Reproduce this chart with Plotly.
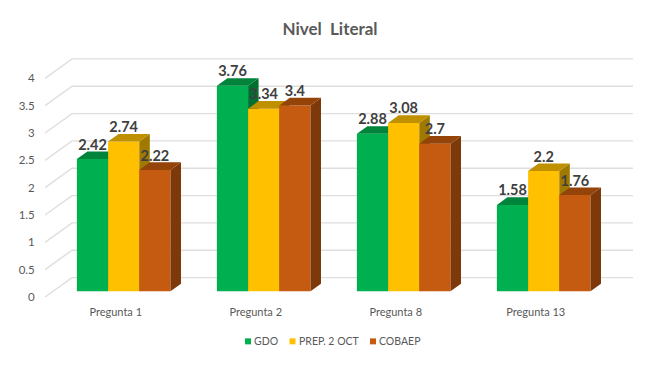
import plotly.graph_objects as go

categories = ["Pregunta 1", "Pregunta 2", "Pregunta 8", "Pregunta 13"]
gdo = [2.42, 3.76, 2.88, 1.58]
prep = [2.74, 3.34, 3.08, 2.2]
cobaep = [2.22, 3.4, 2.7, 1.76]
y_ticks = [0, 0.5, 1, 1.5, 2, 2.5, 3, 3.5, 4]
y_labels = ["0", "0.5", "1", "1.5", "2", "2.5", "3", "3.5", "4"]

series = [
    ("GDO", gdo, "#00B050", "#00843C", "#006F32"),
    ("PREP. 2 OCT", prep, "#FFC000", "#BF9000", "#A07900"),
    ("COBAEP", cobaep, "#C55A11", "#944309", "#7E390A"),
]
legend_swatch_px = [248, 292.5, 373]

W, H = 645, 369
L, R, T, B = 45, 0, 40, 72.3
PX_X, PX_Y = 140.0, 54.6
X_RANGE = [-0.505, -0.505 + (W - L - R) / PX_X]
Y_RANGE = [0, (H - T - B) / PX_Y]
DX, DY = 27 / PX_X, 19.4 / PX_Y      # full depth of the floor
FRONT, BACK = 0.296, 0.685           # bar depth as a share of the floor depth
BAR_W = 31.2 / PX_X
AXIS_END = 3.502
FONT = "Lato, Carlito, Calibri, sans-serif"

fig = go.Figure()

# back wall and left floor lines
for t in y_ticks:
    fig.add_trace(go.Scatter(
        x=[X_RANGE[0], X_RANGE[0] + DX, AXIS_END + DX],
        y=[t, t + DY, t + DY],
        mode="lines", line=dict(color="#DEDEDE", width=1.4),
        showlegend=False, hoverinfo="skip"))

for s, (name, vals, c_front, c_top, c_side) in enumerate(series):
    xa, ya = f"x{s + 2}", f"y{s + 2}"
    lefts = [i + FRONT * DX + (s - 1.5) * BAR_W for i in range(len(vals))]
    fig.add_trace(go.Bar(
        x=[l + BAR_W / 2 for l in lefts], y=vals,
        base=[FRONT * DY] * len(vals), width=BAR_W,
        marker=dict(color=c_front, line=dict(width=0)),
        name=name, xaxis=xa, yaxis=ya, showlegend=False))
    d_x, d_y = (BACK - FRONT) * DX, (BACK - FRONT) * DY
    b0 = FRONT * DY
    for l, v in zip(lefts, vals):
        r = l + BAR_W
        fig.add_trace(go.Scatter(
            x=[r, r + d_x, r + d_x, r, r], y=[b0, b0 + d_y, b0 + d_y + v, b0 + v, b0],
            fill="toself", fillcolor=c_side, mode="none",
            showlegend=False, hoverinfo="skip", xaxis=xa, yaxis=ya))
        fig.add_trace(go.Scatter(
            x=[l, r, r + d_x, l + d_x, l],
            y=[b0 + v, b0 + v, b0 + v + d_y, b0 + v + d_y, b0 + v],
            fill="toself", fillcolor=c_top, mode="none",
            showlegend=False, hoverinfo="skip", xaxis=xa, yaxis=ya))

# data labels, above every face
lx, ly, lt = [], [], []
for s, (name, vals, *_c) in enumerate(series):
    for i, v in enumerate(vals):
        lx.append(i + FRONT * DX + (s - 1) * BAR_W)
        ly.append(v + FRONT * DY + 13 / PX_Y)
        lt.append(f"{v:g}")
fig.add_trace(go.Scatter(
    x=lx, y=ly, text=lt, mode="text", textposition="middle center",
    textfont=dict(family=FONT, size=14.5, color="#404040", weight="bold"),
    showlegend=False, hoverinfo="skip", xaxis="x5", yaxis="y5", cliponaxis=False))

hidden_x = dict(range=X_RANGE, visible=False, overlaying="x")
hidden_y = dict(range=Y_RANGE, visible=False, overlaying="y")

# legend: small square swatches close to their text
shapes, annotations = [], []
for px, (name, _v, color, _t, _s) in zip(legend_swatch_px, series):
    shapes.append(dict(type="rect", xref="paper", yref="paper", layer="above",
                       x0=(px - 3 - L) / (W - L - R), x1=(px + 3 - L) / (W - L - R),
                       y0=(H - B - 344) / (H - T - B), y1=(H - B - 338) / (H - T - B),
                       fillcolor=color, line=dict(width=0)))
    annotations.append(dict(text=name, xref="paper", yref="paper", showarrow=False,
                            x=(px + 6 - L) / (W - L - R), xanchor="left",
                            y=(H - B - 341) / (H - T - B), yanchor="middle",
                            borderpad=0, borderwidth=0,
                            font=dict(family=FONT, size=10.5, color="#595959")))

fig.update_layout(
    width=W, height=H, autosize=False,
    margin=dict(l=L, r=R, t=T, b=B, pad=0),
    paper_bgcolor="white", plot_bgcolor="white",
    font=dict(family=FONT, color="#595959"),
    title=dict(text="Nivel\u00a0 Literal", x=330 / W, xanchor="center", y=1 - 29 / H, yanchor="middle",
               font=dict(family=FONT, size=17, color="#595959", weight="bold")),
    showlegend=False,
    shapes=shapes, annotations=annotations,
    xaxis=dict(range=X_RANGE, tickmode="array", tickvals=list(range(len(categories))),
               ticktext=categories, showgrid=False, zeroline=False, showline=False,
               ticks="outside", ticklen=5, tickcolor="rgba(0,0,0,0)",
               tickfont=dict(family=FONT, size=11, color="#595959")),
    yaxis=dict(range=Y_RANGE, tickmode="array", tickvals=y_ticks, ticktext=y_labels,
               showgrid=False, zeroline=False, showline=False,
               ticks="outside", ticklen=7, tickcolor="rgba(0,0,0,0)",
               tickfont=dict(family=FONT, size=11.5, color="#595959")),
    xaxis2=hidden_x, yaxis2=hidden_y,
    xaxis3=hidden_x, yaxis3=hidden_y,
    xaxis4=hidden_x, yaxis4=hidden_y,
    xaxis5=hidden_x, yaxis5=hidden_y,
)
fig.write_html("out.html", config={"displayModeBar": False},
               post_script="document.body.style.margin='0';document.documentElement.style.overflow='hidden';")
